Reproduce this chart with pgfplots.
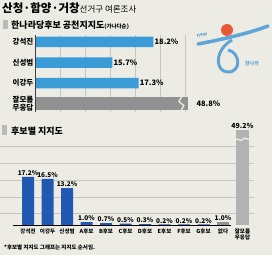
\documentclass[border=0pt]{standalone}
\usepackage{pgfplots}
\pgfplotsset{compat=1.18}
\usepackage{fontspec}
\setmainfont{Noto Sans CJK KR}
\usepackage{graphicx}
\definecolor{bg}{RGB}{236,236,229}
\definecolor{topblue}{RGB}{58,155,214}
\definecolor{botblue}{RGB}{32,88,178}
\definecolor{gbar}{RGB}{145,145,145}
\definecolor{gbar2}{RGB}{178,178,178}
\definecolor{gridc}{RGB}{198,198,192}
\definecolor{logoblue}{RGB}{95,165,215}
\definecolor{logored}{RGB}{230,90,55}
\begin{document}
\begin{tikzpicture}[x=1pt,y=1pt]
\fill[bg] (0,0) rectangle (272,255);
\useasboundingbox (0,0) rectangle (272,255);
% title
\node[anchor=base west, inner sep=0] at (2,243) {\fontsize{11.5}{11}\selectfont\bfseries 산청·함양·거창\fontsize{8.5}{9}\selectfont\mdseries 선거구 여론조사};
% header 1
\fill[gray!55] (3,226) rectangle (8,235);
\node[anchor=base west, inner sep=0] at (11,227) {\fontsize{9}{9}\selectfont\bfseries 한나라당후보 공천지지도{\fontsize{5.5}{6}\selectfont(가나다순)}};
% logo
\fill[logored] (227,225) circle (6);
\draw[logoblue, line width=3.5pt, line cap=round] (198,211) .. controls (220,215) and (250,222) .. (268,229);
\draw[logoblue, line width=3pt] (232,215) .. controls (214,205) and (215,183) .. (228,183) .. controls (242,183) and (240,203) .. (228,205);
\node[logoblue, font=\fontsize{5}{5}\selectfont\bfseries\itshape, rotate=12] at (202,220) {new};
\node[logoblue, font=\fontsize{5}{5}\selectfont\bfseries] at (252,191) {한나라};

\begin{axis}[at={(35pt,143pt)}, anchor=south west, scale only axis,
  width=153pt, height=77pt,
  xmin=11, xmax=20.3, ymin=-0.34, ymax=3.41, y dir=reverse,
  axis line style={draw=none}, tick style={draw=none},
  xtick={12.52,14.04,15.56,17.08,18.60,20.12}, xticklabels={},
  xmajorgrids, grid style={gridc, line width=0.6pt},
  ytick={0,1,2,3},
  yticklabels={강석진,신성범,이강두,{잘모름\\무응답}},
  yticklabel style={align=center, font=\fontsize{7.5}{7.5}\selectfont\bfseries, inner sep=1.5pt},
  clip mode=individual]
\addplot[xbar, bar shift=0pt, bar width=10.5pt, fill=topblue, draw=none] coordinates {(18.2,0) (15.7,1) (17.3,2)};
\addplot[xbar, bar shift=0pt, bar width=13pt, fill=gbar, draw=none] coordinates {(48.8,3)};
\draw[bg, line width=1.3pt] (axis cs:19.95,2.62) -- (axis cs:19.75,2.9) -- (axis cs:20.05,3.1) -- (axis cs:19.85,3.38);
\draw[black!75, line width=0.8pt] (rel axis cs:0,0) -- (rel axis cs:0,1);
\node[anchor=west, inner sep=1pt, font=\fontsize{7.5}{7.5}\selectfont\bfseries] at (axis cs:18.2,0) {18.2\%};
\node[anchor=west, inner sep=1pt, font=\fontsize{7.5}{7.5}\selectfont\bfseries] at (axis cs:15.7,1) {15.7\%};
\node[anchor=west, inner sep=1pt, font=\fontsize{7.5}{7.5}\selectfont\bfseries] at (axis cs:17.3,2) {17.3\%};
\node[anchor=west, inner sep=1pt, font=\fontsize{7.5}{7.5}\selectfont\bfseries] at (axis cs:20.75,3) {48.8\%};
\end{axis}

% header 2
\fill[gray!55] (2,120) rectangle (7,130);
\node[anchor=base west, inner sep=0] at (11,121) {\fontsize{9}{9}\selectfont\bfseries 후보별 지지도};

\begin{axis}[at={(0pt,30pt)}, anchor=south west, scale only axis,
  width=254pt, height=95pt,
  xmin=-1.44, xmax=11.59, ymin=0, ymax=33.9,
  axis line style={draw=none}, tick style={draw=none},
  ytick={4,10,16,22,28}, yticklabels={},
  ymajorgrids, grid style={gridc, line width=0.6pt},
  xtick={0,...,11},
  xticklabels={강석진,이강두,신성범,A후보,B후보,C후보,D후보,E후보,F후보,G후보,없다,{잘모름\\무응답}},
  xticklabel style={align=center, font=\fontsize{5.5}{6.5}\selectfont\bfseries, inner sep=1pt, yshift=-2.5pt},
  clip mode=individual,
  /pgf/number format/assume math mode=true,
  nodes near coords style={font=\fontsize{6.5}{6.5}\selectfont\bfseries, inner sep=1pt}]
\addplot[ybar, bar shift=0pt, bar width=12pt, fill=botblue, draw=none,
  nodes near coords={\pgfmathprintnumber[fixed, fixed zerofill, precision=1, assume math mode=true]{\pgfplotspointmeta}\%}]
  coordinates {(0,17.2) (1,16.5) (2,13.2) (3,1.0) (4,0.7) (5,0.5) (6,0.3) (7,0.2) (8,0.2) (9,0.2)};
\addplot[ybar, bar shift=0pt, bar width=12pt, fill=gbar, draw=none,
  nodes near coords={\pgfmathprintnumber[fixed, fixed zerofill, precision=1, assume math mode=true]{\pgfplotspointmeta}\%}]
  coordinates {(10,1.0)};
\addplot[ybar, bar shift=0pt, bar width=13pt, fill=gbar2, draw=none] coordinates {(11,49.2)};
\draw[bg, line width=1.3pt] (axis cs:10.62,30.8) -- (axis cs:10.95,30.2) -- (axis cs:11.1,31.0) -- (axis cs:11.38,30.4);
\draw[black, line width=0.7pt] (axis cs:-0.75,0) -- (axis cs:10.4,0);
\node[anchor=south, inner sep=1pt, font=\fontsize{7}{7}\selectfont\bfseries] at (axis cs:11,33.9) {49.2\%};
\end{axis}
\node[anchor=base west, inner sep=0] at (4,6) {\fontsize{5.5}{6}\selectfont\bfseries *후보별 지지도 그래프는 지지도 순서임.};
\end{tikzpicture}
\end{document}
